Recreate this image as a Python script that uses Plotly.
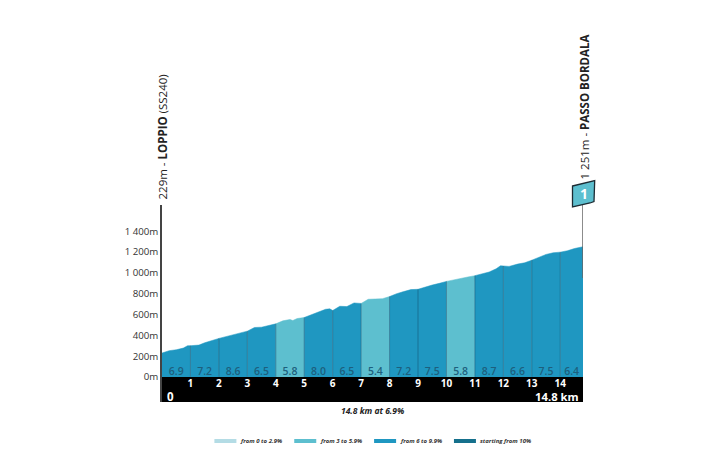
import plotly.graph_objects as go

# profile (km, metres)
dist = [0, 0.25, 0.5, 0.75, 0.9, 1, 1.3, 1.5, 1.75, 2, 2.25, 2.5, 2.75, 3, 3.25, 3.5, 3.75, 4,
	4.25, 4.5, 4.6, 4.75, 5, 5.25, 5.5, 5.75, 5.9, 6, 6.25, 6.5, 6.75, 7, 7.25, 7.5, 7.75, 8,
	8.25, 8.5, 8.75, 9, 9.25, 9.5, 9.75, 10, 10.25, 10.5, 10.75, 11, 11.25, 11.5, 11.75, 11.9, 12,
	12.2, 12.5, 12.75, 13, 13.25, 13.5, 13.75, 14, 14.25, 14.5, 14.8]
elev = [229, 252, 261, 277, 300, 300, 306, 328, 350, 370, 386, 405, 418, 440, 475, 478, 494, 510,
	539, 552, 542, 561, 571, 596, 622, 650, 654, 638, 679, 676, 711, 706, 746, 749, 752, 772,
	800, 820, 839, 842, 864, 883, 899, 918, 934, 947, 960, 973, 992, 1008, 1040, 1068, 1066,
	1062, 1084, 1097, 1122, 1151, 1177, 1193, 1199, 1212, 1234, 1251]

km_marks = list(range(1, 15))
km_starts = [0, 1, 2, 3, 4, 5, 6, 7, 8, 9, 10, 11, 12, 13, 14]
km_ends = [1, 2, 3, 4, 5, 6, 7, 8, 9, 10, 11, 12, 13, 14, 14.8]
grades = [6.9, 7.2, 8.6, 6.5, 5.8, 8.0, 6.5, 5.4, 7.2, 7.5, 5.8, 8.7, 6.6, 7.5, 6.4]

tick_vals = [0, 200, 400, 600, 800, 1000, 1200, 1400]
tick_text = ['0m', '200m', '400m', '600m', '800m', '1 000m', '1 200m', '1 400m']

legend_names = ['from 0 to 2.9%', 'from 3 to 5.9%', 'from 6 to 9.9%', 'starting from 10%']
legend_colors = ['#b4dce5', '#5dbfcf', '#1f97c1', '#15708c']

BAND_BOTTOM = -241
FONT = 'Open Sans'
# the page adds an 8px body margin, so the figure is 8px smaller and its margins shifted
PAGE_MARGIN = 8
PLOT_LEFT = 161.5
PLOT_WIDTH = 421.8


def grade_color(g):
	if g < 3:
		return legend_colors[0]
	if g < 6:
		return legend_colors[1]
	if g < 10:
		return legend_colors[2]
	return legend_colors[3]


fig = go.Figure()

# one filled area per km, coloured by its gradient
for start, end, g in zip(km_starts, km_ends, grades):
	seg_x = [d for d in dist if start <= d <= end]
	seg_y = [e for d, e in zip(dist, elev) if start <= d <= end]
	fig.add_trace(go.Scatter(x=seg_x, y=seg_y, mode='lines', fill='tozeroy',
		fillcolor=grade_color(g), line=dict(color=grade_color(g), width=0.5),
		hoverinfo='skip', showlegend=False))

# thin separators at each km
sep_x = []
sep_y = []
for k in km_marks:
	sep_x += [k, k, None]
	sep_y += [0, elev[dist.index(k)], None]
fig.add_trace(go.Scatter(x=sep_x, y=sep_y, mode='lines',
	line=dict(color='rgba(20,85,115,0.55)', width=1), hoverinfo='skip', showlegend=False))

# gradient labels in the middle of each km
fig.add_trace(go.Scatter(x=[(a + b) / 2 for a, b in zip(km_starts, km_ends)], y=[40] * len(grades),
	mode='text', text=['%.1f' % g for g in grades],
	textfont=dict(family=FONT, size=10.5, color='#1d5f7d', weight=600),
	hoverinfo='skip', showlegend=False))

# km numbers inside the black band
fig.add_trace(go.Scatter(x=km_marks, y=[-72] * len(km_marks), mode='text',
	text=[str(k) for k in km_marks],
	textfont=dict(family=FONT, size=10, color='white', weight=700),
	hoverinfo='skip', showlegend=False))

fig.add_shape(type='rect', xref='x', yref='y', x0=0, x1=14.8, y0=BAND_BOTTOM, y1=0,
	fillcolor='black', line_width=0, layer='below')

# pole and flag for the summit
fig.add_shape(type='line', xref='x', yref='paper', x0=14.8, x1=14.8, y0=0.63, y1=1,
	line=dict(color='#666666', width=1.5))
fig.add_shape(type='path', xref='paper', yref='paper', xsizemode='pixel', ysizemode='pixel',
	xanchor=1, yanchor=1, path='M -10.5 19 L 11.7 24.5 L 11 3.5 L 7 2 L -10.5 -2 Z',
	fillcolor='#5dbfcf', line=dict(color='#1d2b33', width=1.3))

fig.add_annotation(xref='x', yref='paper', x=14.8, y=1, xshift=0.5, yshift=12, yanchor='middle', text='1',
	showarrow=False, font=dict(family=FONT, size=14, color='white', weight=700))

# climb names, rotated
fig.add_annotation(xref='paper', yref='paper', x=0, y=1, xanchor='center', xshift=0, yshift=3, yanchor='bottom',
	textangle=-90, text='229m - <b>LOPPIO</b> (SS240)', showarrow=False,
	font=dict(family=FONT, size=11.5, color='#222222'))
fig.add_annotation(xref='paper', yref='paper', x=1, y=1, xanchor='center', xshift=1, yshift=23, yanchor='bottom',
	textangle=-90, text='1 251m - <b>PASSO BORDALA</b>', showarrow=False,
	font=dict(family=FONT, size=11.5, color='#222222'))

# band end labels
fig.add_annotation(xref='x', yref='y', x=0, y=-186, xanchor='left', xshift=3, text='<b>0</b>', showarrow=False,
	font=dict(family=FONT, size=11.5, color='white'))
fig.add_annotation(xref='x', yref='y', x=14.8, y=-186, xanchor='right', xshift=-2, text='<b>14.8 km</b>', showarrow=False,
	font=dict(family=FONT, size=11.3, color='white'))

# caption
fig.add_annotation(xref='paper', yref='paper', x=0.5, y=0, yanchor='middle', yshift=-8,
	text='<b><i>14.8 km at 6.9%</i></b>', showarrow=False, font=dict(family=FONT, size=8.5, color='#222222'))

# legend row
for i, (name, color) in enumerate(zip(legend_names, legend_colors)):
	left = 214 + i * 80
	anchor = (left - PLOT_LEFT) / PLOT_WIDTH
	fig.add_shape(type='rect', xref='paper', yref='paper', xsizemode='pixel', ysizemode='pixel',
		xanchor=anchor, yanchor=0, x0=0, x1=22, y0=-37, y1=-41,
		fillcolor=color, line_width=0)
	fig.add_annotation(xref='paper', yref='paper', x=anchor, y=0, xanchor='left', yanchor='middle',
		xshift=24, yshift=-39, text='<b><i>%s</i></b>' % name, showarrow=False,
		font=dict(family=FONT, size=6, color='#333333'))

fig.update_xaxes(range=[0, 14.8], showgrid=False, zeroline=False, showticklabels=False, ticks='')
fig.update_yaxes(range=[BAND_BOTTOM, 1652], showgrid=False, zeroline=False, tickvals=tick_vals,
	ticktext=tick_text, ticks='', showline=True, linecolor='#444444', linewidth=1.5,
	tickfont=dict(family=FONT, size=9.7, color='#333333'))
fig.update_layout(width=720 - PAGE_MARGIN, height=458 - PAGE_MARGIN,
	margin=dict(l=PLOT_LEFT - PAGE_MARGIN, r=136.7, t=205 - PAGE_MARGIN, b=55.5),
	paper_bgcolor='white', plot_bgcolor='white', showlegend=False)

fig.write_html("out.html")
